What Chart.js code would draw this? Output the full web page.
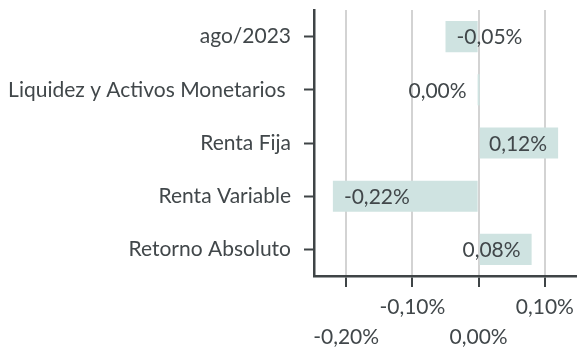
<!DOCTYPE html>
<html>
<head>
<meta charset="utf-8">
<script src="https://cdn.jsdelivr.net/npm/chart.js@4/dist/chart.umd.min.js"></script>
<style>
  html, body { margin: 0; padding: 0; background: #fff; }
  #wrap { width: 577px; height: 347px; position: relative; }
</style>
</head>
<body>
<div id="wrap"><canvas id="barChart1"></canvas></div>
<script>
const categories = ["ago/2023", "Liquidez y Activos Monetarios ", "Renta Fija", "Renta Variable", "Retorno Absoluto"];
const returns = [-0.05, 0.0, 0.12, -0.22, 0.08];
const xTickValues = [-0.2, -0.1, 0.0, 0.1];

const textColor = "#41474a";
const axisColor = "#3f4446";
const fontFamily = "Lato, 'Noto Sans', sans-serif";
const fontSize = 21;

function fmt(v) {
  return v.toFixed(2).replace(".", ",") + "%";
}

// value labels sit inside the bar end, pushed outward when the bar is short
const valueLabels = {
  id: "valueLabels",
  afterDatasetsDraw(chart) {
    const ctx = chart.ctx;
    const meta = chart.getDatasetMeta(0);
    ctx.save();
    ctx.font = fontSize + "px " + fontFamily;
    ctx.fillStyle = textColor;
    ctx.textBaseline = "middle";
    meta.data.forEach((bar, i) => {
      const v = returns[i];
      if (v >= 0) {
        ctx.textAlign = "right";
        ctx.fillText(fmt(v), bar.x - 11, bar.y + 1);
      } else {
        ctx.textAlign = "left";
        ctx.fillText(fmt(v), bar.x + 11, bar.y + 1);
      }
    });
    ctx.restore();
  },
};

const barChartcnt = document.getElementById("barChart1");

let barChart = new Chart(barChartcnt, {
  type: "bar",
  data: {
    labels: categories,
    datasets: [
      {
        data: returns,
        backgroundColor: "#cfe3e1",
        borderWidth: 0,
        barPercentage: 0.585,
        categoryPercentage: 1,
        minBarLength: 2,
      },
    ],
  },
  options: {
    indexAxis: "y",
    responsive: true,
    maintainAspectRatio: false,
    animation: false,
    layout: { padding: { top: 10, right: 0, left: 0, bottom: 0 } },
    plugins: {
      legend: { display: false },
      tooltip: { enabled: false },
    },
    scales: {
      x: {
        min: -0.2485,
        max: 0.1485,
        afterBuildTicks: (scale) => {
          scale.ticks = xTickValues.map((v) => ({ value: v }));
        },
        afterFit: (scale) => {
          scale.height = 71;
          scale.paddingLeft = 0;
          scale.paddingRight = 0;
        },
        grid: {
          color: "#d3d3d3",
          lineWidth: 2,
          tickColor: axisColor,
          tickLength: 11,
          tickWidth: 2,
        },
        border: { color: axisColor, width: 2.5 },
        ticks: {
          autoSkip: false,
          maxRotation: 0,
          minRotation: 0,
          padding: 5,
          color: textColor,
          font: { family: fontFamily, size: fontSize, lineHeight: 1.43 },
          // alternate rows so the labels do not crowd each other
          callback: function (value, index) {
            const label = fmt(xTickValues[index]);
            return index % 2 === 0 ? ["", label] : [label, ""];
          },
        },
      },
      y: {
        afterFit: (scale) => {
          scale.width = 314;
          scale.paddingTop = 0;
          scale.paddingBottom = 0;
        },
        grid: {
          offset: false,
          drawOnChartArea: false,
          drawTicks: true,
          tickColor: axisColor,
          tickLength: 10,
          tickWidth: 2,
        },
        border: { color: axisColor, width: 2.5 },
        ticks: {
          padding: 13,
          color: textColor,
          font: { family: fontFamily, size: fontSize },
        },
      },
    },
  },
  plugins: [valueLabels],
});
</script>
</body>
</html>
